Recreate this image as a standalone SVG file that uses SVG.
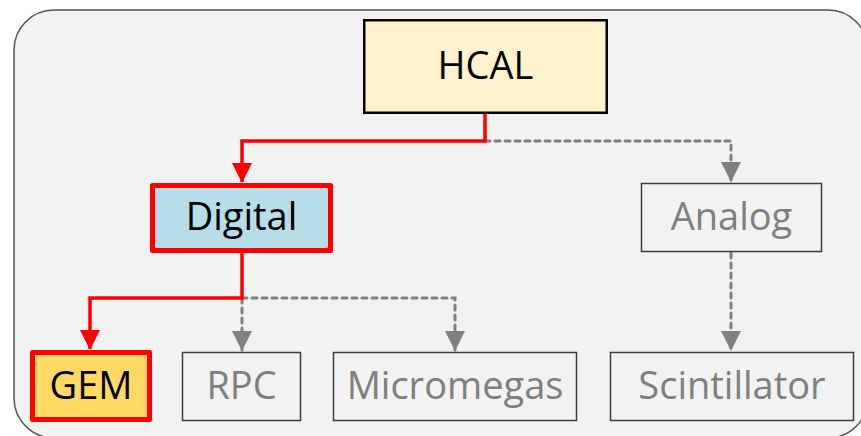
<svg xmlns="http://www.w3.org/2000/svg" width="861" height="436" viewBox="0 0 861 436">
  <style>
    .lbl { font-family: "Open Sans", "Noto Sans", "Liberation Sans", sans-serif; font-size: 38px; text-anchor: middle; }
    .dark { fill: #000000; }
    .grey { fill: #7f7f7f; }
    .gbox { fill: #f2f2f2; stroke: #3c3c3c; stroke-width: 1.5; }
    .red { fill: none; stroke: #ff0000; stroke-width: 3.5; stroke-linejoin: miter; }
    .dash { fill: none; stroke: #808080; stroke-width: 3; stroke-dasharray: 5 5; stroke-linecap: round; }
  </style>
  <defs>
    <marker id="arrRed" viewBox="0 0 20 20" markerWidth="20" markerHeight="20" refX="19" refY="10" orient="auto" markerUnits="userSpaceOnUse">
      <path d="M0,0 L20,10 L0,20 z" fill="#ff0000"/>
    </marker>
    <marker id="arrGrey" viewBox="0 0 20 20" markerWidth="20" markerHeight="20" refX="19" refY="10" orient="auto" markerUnits="userSpaceOnUse">
      <path d="M0,0 L20,10 L0,20 z" fill="#808080"/>
    </marker>
  </defs>

  <rect id="background" x="14" y="10" width="854" height="428" rx="40" ry="40" fill="#f2f2f2" stroke="#555555" stroke-width="1.5"/>

  <g id="connectors">
    <path class="dash" d="M485,141 H731 V181" marker-end="url(#arrGrey)"/>
    <path class="dash" d="M242,298 H455 V350" marker-end="url(#arrGrey)"/>
    <path class="dash" d="M242,298 V350" marker-end="url(#arrGrey)"/>
    <path class="dash" d="M731,253 V350" marker-end="url(#arrGrey)"/>
    <path class="red" d="M485,114 V141 H242 V182" marker-end="url(#arrRed)"/>
    <path class="red" d="M242,253 V298 H90 V349" marker-end="url(#arrRed)"/>
  </g>

  <g id="node-hcal">
    <rect x="364.25" y="20.25" width="242.5" height="92.5" fill="#fff2cc" stroke="#000000" stroke-width="2.5"/>
    <text class="lbl dark" x="485.5" y="78.5">HCAL</text>
  </g>

  <g id="node-digital">
    <rect x="152.5" y="185.5" width="178" height="65" fill="#b7dee8" stroke="#ff0000" stroke-width="5" stroke-linejoin="round"/>
    <text class="lbl dark" x="241.5" y="230">Digital</text>
  </g>

  <g id="node-analog">
    <rect class="gbox" x="641.5" y="183.5" width="180" height="68"/>
    <text class="lbl grey" x="731.5" y="229.5">Analog</text>
  </g>

  <g id="node-gem">
    <rect x="32.5" y="352.5" width="117" height="67" fill="#ffd966" stroke="#ff0000" stroke-width="5" stroke-linejoin="round"/>
    <text class="lbl dark" x="91" y="398.5">GEM</text>
  </g>

  <g id="node-rpc">
    <rect class="gbox" x="182.5" y="352.5" width="118" height="68"/>
    <text class="lbl grey" x="241.5" y="398.5">RPC</text>
  </g>

  <g id="node-micromegas">
    <rect class="gbox" x="333.5" y="352.5" width="243" height="68"/>
    <text class="lbl grey" x="455" y="398.5">Micromegas</text>
  </g>

  <g id="node-scintillator">
    <rect class="gbox" x="610.5" y="352.5" width="243" height="68"/>
    <text class="lbl grey" x="732" y="398.5">Scintillator</text>
  </g>
</svg>
